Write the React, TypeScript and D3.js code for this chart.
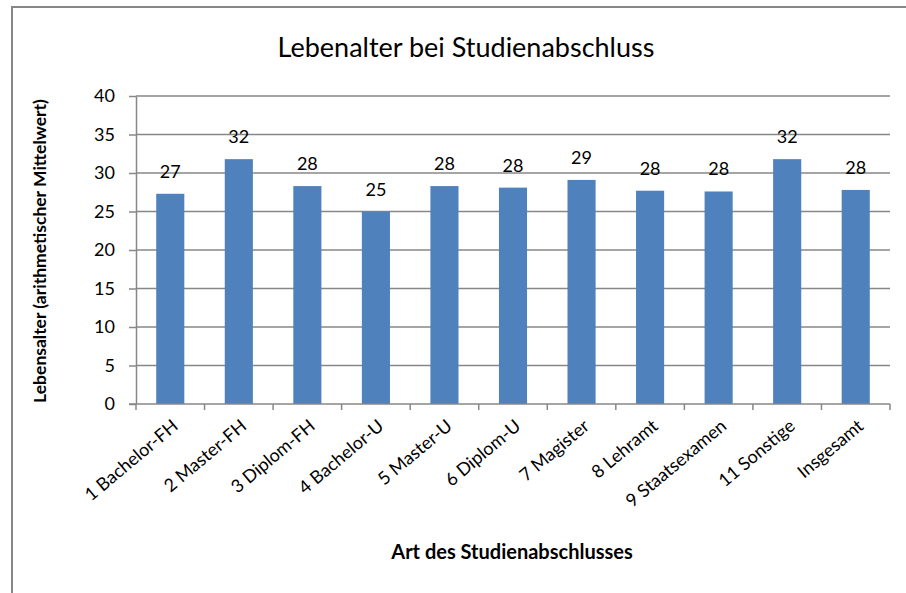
import * as d3 from 'd3';
import React, { useRef, useEffect } from 'react';

const categories = [
  '1 Bachelor-FH', '2 Master-FH', '3 Diplom-FH', '4 Bachelor-U', '5 Master-U',
  '6 Diplom-U', '7 Magister', '8 Lehramt', '9 Staatsexamen', '11 Sonstige', 'Insgesamt',
];
const values = [27.3, 31.8, 28.3, 25.0, 28.3, 28.1, 29.1, 27.7, 27.6, 31.8, 27.8];
const yTicks = [0, 5, 10, 15, 20, 25, 30, 35, 40];

const title = 'Lebenalter bei Studienabschluss';
const yTitle = 'Lebensalter (arithmetischer Mittelwert)';
const xTitle = 'Art des Studienabschlusses';

const width = 906, height = 593;
const margin = { top: 96, right: 16, bottom: 189, left: 136 };
const font = 'Lato, "Open Sans", sans-serif';
const grey = '#878787';

function App() {
  const ref = useRef<SVGSVGElement>(null);

  useEffect(() => {
    const svg = d3.select(ref.current);
    svg.selectAll('*').remove();

    // outer frame (cut off at right and bottom like the original)
    svg.append('rect')
      .attr('x', 12).attr('y', 7)
      .attr('width', 920).attr('height', 620)
      .attr('fill', 'white').attr('stroke', grey).attr('stroke-width', 2);

    const innerW = width - margin.left - margin.right;
    const innerH = height - margin.top - margin.bottom;

    const x = d3.scaleBand().domain(categories).range([0, innerW]).paddingInner(0.59).paddingOuter(0.295);
    const xTick = d3.scaleBand().domain(categories).range([0, innerW]);
    const y = d3.scaleLinear().domain([0, 40]).range([innerH, 0]);

    const g = svg.append('g').attr('transform', `translate(${margin.left},${margin.top})`);

    // gridlines
    g.selectAll('.grid').data(yTicks.filter(t => t > 0)).enter().append('line')
      .attr('x1', 0).attr('x2', innerW)
      .attr('y1', d => y(d)).attr('y2', d => y(d))
      .attr('stroke', grey).attr('stroke-width', 1.5);

    // bars
    g.selectAll('.bar').data(values).enter().append('rect')
      .attr('x', (d, i) => x(categories[i])!)
      .attr('y', d => y(d))
      .attr('width', x.bandwidth())
      .attr('height', d => innerH - y(d))
      .attr('fill', '#4f81bd');

    // data labels
    g.selectAll('.lbl').data(values).enter().append('text')
      .attr('x', (d, i) => x(categories[i])! + x.bandwidth() / 2)
      .attr('y', d => y(d) - 16)
      .attr('text-anchor', 'middle')
      .style('font-family', font).style('font-size', '18px').attr('fill', '#000')
      .text(d => d3.format('.0f')(d));

    // y axis
    const yAxis = g.append('g').call(d3.axisLeft(y).tickValues(yTicks).tickSize(7).tickSizeOuter(0).tickPadding(14));
    yAxis.select('.domain').attr('stroke', grey).attr('stroke-width', 1.5);
    yAxis.selectAll('.tick line').attr('stroke', grey).attr('stroke-width', 1.5);
    yAxis.selectAll('.tick text').style('font-family', font).style('font-size', '18px').attr('fill', '#000');

    // x axis
    const xAxis = g.append('g').attr('transform', `translate(0,${innerH})`);
    xAxis.append('line').attr('x1', -7).attr('x2', innerW).attr('stroke', grey).attr('stroke-width', 1.5);
    xAxis.selectAll('.xt').data(d3.range(categories.length + 1)).enter().append('line')
      .attr('x1', i => i * xTick.step()).attr('x2', i => i * xTick.step())
      .attr('y1', 0).attr('y2', 6)
      .attr('stroke', grey).attr('stroke-width', 1.5);
    xAxis.selectAll('.xl').data(categories).enter().append('text')
      .attr('transform', d => `translate(${xTick(d)! + xTick.bandwidth() / 2 + 9},${24}) rotate(-40)`)
      .attr('text-anchor', 'end')
      .style('font-family', font).style('font-size', '18px').attr('fill', '#000')
      .text(d => d);

    // titles
    svg.append('text')
      .attr('x', 466).attr('y', 57)
      .attr('text-anchor', 'middle')
      .style('font-family', font).style('font-size', '27px').attr('fill', '#000')
      .text(title);

    svg.append('text')
      .attr('transform', `translate(46,251) rotate(-90)`)
      .attr('text-anchor', 'middle')
      .style('font-family', font).style('font-size', '17.5px').style('font-weight', 'bold').attr('fill', '#000')
      .text(yTitle);

    svg.append('text')
      .attr('x', 512).attr('y', 559)
      .attr('text-anchor', 'middle')
      .style('font-family', font).style('font-size', '20px').style('font-weight', 'bold').attr('fill', '#000')
      .text(xTitle);
  }, []);

  return (
    <svg ref={ref} width={width} height={height}
      style={{ position: 'absolute', left: 0, top: 0, display: 'block' }} />
  );
}

export default App;
